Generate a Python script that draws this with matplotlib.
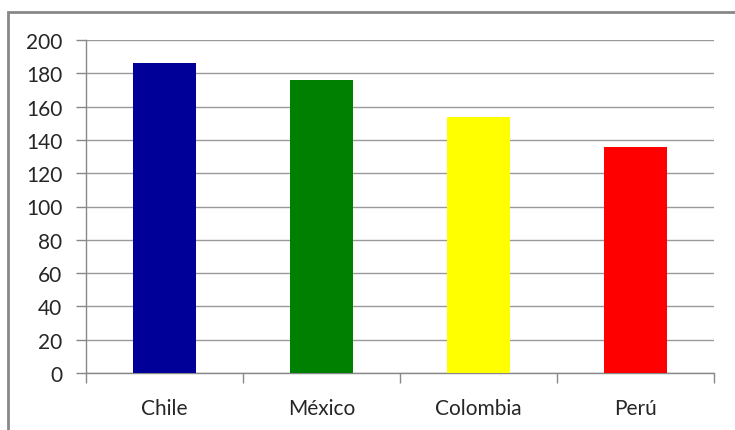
import matplotlib
matplotlib.use("Agg")
import matplotlib.pyplot as plt
from matplotlib.patches import Rectangle

categories = ["Chile", "México", "Colombia", "Perú"]
values = [186, 176, 154, 136]
colors = ["#000099", "#008000", "#FFFF00", "#FF0000"]
yticks = [0, 20, 40, 60, 80, 100, 120, 140, 160, 180, 200]

W, H = 735, 431
fig = plt.figure(figsize=(W / 100, H / 100), dpi=100)
plt.rcParams['font.family'] = ['Lato', 'DejaVu Sans']

# outer chart border (clipped at right and bottom)
fig.patches.append(Rectangle((8 / W, -0.1), 1.2, 1 - 13 / H + 0.1,
                             transform=fig.transFigure, fill=False,
                             edgecolor="#888888", linewidth=2))

ax = fig.add_axes([86 / W, 1 - 374 / H, (714 - 86) / W, (374 - 41) / H])
x = list(range(len(categories)))
ax.bar(x, values, width=0.4, color=colors, zorder=3)
ax.set_xlim(-0.5, len(categories) - 0.5)
ax.set_ylim(0, 200)
ax.set_yticks(yticks)
ax.set_yticklabels([str(t) for t in yticks], fontsize=15, color="#262626")
ax.set_xticks(x)
ax.set_xticklabels(categories, fontsize=15, color="#262626")
ax.tick_params(axis="x", length=0, pad=18)
ax.tick_params(axis="y", length=7, color="#888888", width=1, pad=10)
# boundary ticks on x axis
ax.set_xticks([i - 0.5 for i in range(len(categories) + 1)], minor=True)
ax.tick_params(axis="x", which="minor", length=7, color="#888888", width=1)
ax.grid(axis="y", color="#999999", linewidth=1, zorder=0)
for s in ["top", "right"]:
    ax.spines[s].set_visible(False)
for s in ["left", "bottom"]:
    ax.spines[s].set_color("#888888")
    ax.spines[s].set_linewidth(1)

fig.savefig("out.png", dpi=100)
